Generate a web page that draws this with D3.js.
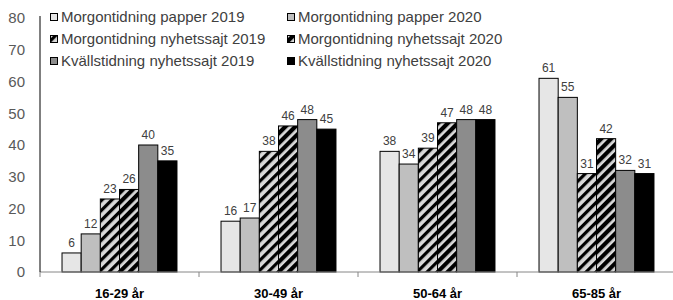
<!DOCTYPE html>
<html>
<head>
<meta charset="utf-8">
<script src="https://cdn.jsdelivr.net/npm/d3@7"></script>
<style>
    body { margin: 0; background: #fff; }
    #chart { width: 673px; height: 300px; }
    text { font-family: "Liberation Sans", Arial, sans-serif; }
</style>
</head>
<body>
<div id="chart"></div>
<script>
// categories and series
let ageGroups = ['16-29 år', '30-49 år', '50-64 år', '65-85 år'];
let seriesNames = [
    'Morgontidning papper 2019', 'Morgontidning papper 2020',
    'Morgontidning nyhetssajt 2019', 'Morgontidning nyhetssajt 2020',
    'Kvällstidning nyhetssajt 2019', 'Kvällstidning nyhetssajt 2020'
];
let papper2019 = [6, 16, 38, 61];
let papper2020 = [12, 17, 34, 55];
let morgonSajt2019 = [23, 38, 39, 31];
let morgonSajt2020 = [26, 46, 47, 42];
let kvallSajt2019 = [40, 48, 48, 32];
let kvallSajt2020 = [35, 45, 48, 31];
let yTicks = [0, 10, 20, 30, 40, 50, 60, 70, 80];

let seriesValues = [papper2019, papper2020, morgonSajt2019, morgonSajt2020, kvallSajt2019, kvallSajt2020];
let fills = ['#e6e6e6', '#bfbfbf', 'url(#hatch2019)', 'url(#hatch2020)', '#8c8c8c', '#000000'];

let width = 673, height = 300;
let svg = d3.select('#chart').append('svg')
    .attr('width', width)
    .attr('height', height);

// hatch patterns for the news site series
let defs = svg.append('defs');
[['hatch2019', 3.2], ['hatch2020', 4.2]].forEach(([id, w]) => {
    let p = defs.append('pattern')
        .attr('id', id)
        .attr('patternUnits', 'userSpaceOnUse')
        .attr('width', 7)
        .attr('height', 7)
        .attr('patternTransform', 'rotate(45)');
    p.append('rect').attr('width', 7).attr('height', 7).attr('fill', '#d9d9d9');
    p.append('rect').attr('width', w).attr('height', 7).attr('fill', '#000');
});

// scales
let x0 = d3.scaleBand()
    .domain(ageGroups)
    .range([40, 676])
    .paddingInner(0.277)
    .paddingOuter(0.1385);

let x1 = d3.scaleBand()
    .domain(d3.range(seriesNames.length))
    .range([0, x0.bandwidth()]);

let y = d3.scaleLinear()
    .domain([0, 80])
    .range([272, 18]);

// y tick labels
svg.append('g')
    .selectAll('text')
    .data(yTicks)
    .enter().append('text')
    .attr('x', 25)
    .attr('y', d => y(d))
    .attr('dy', '0.35em')
    .attr('text-anchor', 'end')
    .attr('font-size', 15)
    .attr('fill', '#595959')
    .text(d => d);

// bars
let groups = svg.append('g')
    .selectAll('g')
    .data(ageGroups)
    .enter().append('g')
    .attr('transform', d => `translate(${x0(d)},0)`);

groups.selectAll('rect')
    .data((d, i) => seriesValues.map((s, j) => ({series: j, value: s[i]})))
    .enter().append('rect')
    .attr('x', d => x1(d.series))
    .attr('y', d => y(d.value))
    .attr('width', x1.bandwidth())
    .attr('height', d => y(0) - y(d.value))
    .attr('fill', d => fills[d.series])
    .attr('stroke', '#000')
    .attr('stroke-width', 1);

groups.selectAll('text')
    .data((d, i) => seriesValues.map((s, j) => ({series: j, value: s[i]})))
    .enter().append('text')
    .attr('x', d => x1(d.series) + x1.bandwidth() / 2)
    .attr('y', d => y(d.value) - 6)
    .attr('text-anchor', 'middle')
    .attr('font-size', 12)
    .attr('fill', '#404040')
    .text(d => d.value);

// x axis
let step = x0.step();
let gap = step * x0.paddingInner();
svg.append('line')
    .attr('x1', 40).attr('x2', 673)
    .attr('y1', y(0)).attr('y2', y(0))
    .attr('stroke', '#868686');

svg.append('g')
    .selectAll('line')
    .data(ageGroups)
    .enter().append('line')
    .attr('x1', d => x0(d) - gap / 2)
    .attr('x2', d => x0(d) - gap / 2)
    .attr('y1', y(0))
    .attr('y2', y(0) + 5)
    .attr('stroke', '#868686');

svg.append('g')
    .selectAll('text')
    .data(ageGroups)
    .enter().append('text')
    .attr('x', d => x0(d) + x0.bandwidth() / 2)
    .attr('y', 298)
    .attr('text-anchor', 'middle')
    .attr('font-size', 13)
    .attr('font-weight', 'bold')
    .attr('fill', '#000')
    .text(d => d);

// y axis line
svg.append('line')
    .attr('x1', 40).attr('x2', 40)
    .attr('y1', 16).attr('y2', y(0))
    .attr('stroke', '#000');

// legend
let legend = svg.append('g')
    .selectAll('g')
    .data(seriesNames)
    .enter().append('g')
    .attr('transform', (d, i) => `translate(${i % 2 === 0 ? 50 : 287},${17 + Math.floor(i / 2) * 22})`);

legend.append('rect')
    .attr('x', 0.5).attr('y', -3.5)
    .attr('width', 7).attr('height', 7)
    .attr('fill', (d, i) => fills[i])
    .attr('stroke', '#000');

legend.append('text')
    .attr('x', 11)
    .attr('y', 0)
    .attr('dy', '0.35em')
    .attr('font-size', 15)
    .attr('fill', '#404040')
    .text(d => d);
</script>
</body>
</html>
